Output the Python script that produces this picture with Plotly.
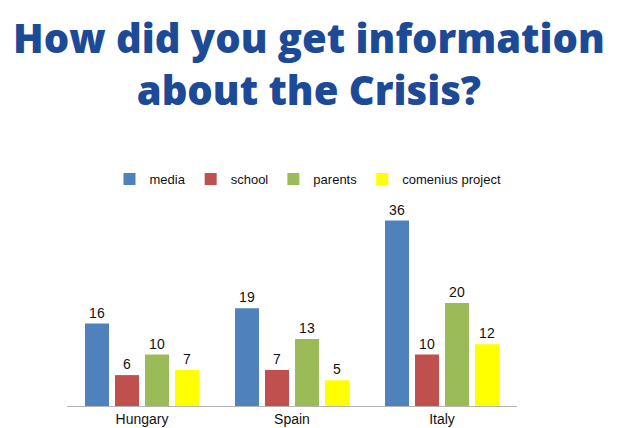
import plotly.graph_objects as go

countries = ["Hungary", "Spain", "Italy"]
series_names = ["media", "school", "parents", "comenius project"]
media = [16, 19, 36]
school = [6, 7, 10]
parents = [10, 13, 20]
comenius = [7, 5, 12]
colors = ["#4f81bd", "#c0504d", "#9bbb59", "#ffff00"]
title_text = "How did you get information<br>about the Crisis?"

fig = go.Figure()
for name, vals, col in zip(series_names, [media, school, parents, comenius], colors):
    fig.add_trace(go.Bar(
        x=countries, y=vals, name=name, marker=dict(color=col, line=dict(width=0)),
        text=[str(v) for v in vals], textposition="outside", cliponaxis=False,
        textfont=dict(family="Liberation Sans", size=14, color="#111111"),
    ))

fig.add_annotation(
    text=title_text, xref="paper", yref="paper", x=(309 - 67) / 450, y=(406 - 8) / 206,
    xanchor="center", yanchor="top", showarrow=False, align="center",
    font=dict(family="Open Sans", size=40, color="#1c4a96", weight=800),
)

fig.update_layout(
    width=619, height=428,
    margin=dict(l=67, r=102, t=200, b=22, autoexpand=False),
    paper_bgcolor="white", plot_bgcolor="white",
    barmode="group", bargap=0.2, bargroupgap=0.2,
    legend=dict(
        orientation="h", x=(308 - 67) / 450, xanchor="center", y=(406 - 179) / 206, yanchor="middle",
        font=dict(family="Liberation Sans", size=13, color="#111111"),
        itemwidth=30, tracegroupgap=0, bgcolor="rgba(0,0,0,0)",
    ),
    showlegend=True,
)
fig.update_xaxes(
    showline=True, linecolor="#b3b3b3", linewidth=1, ticks="", automargin=False,
    tickfont=dict(family="Liberation Sans", size=14, color="#111111"),
    showgrid=False,
)
fig.update_yaxes(range=[0, 40], visible=False, showgrid=False, zeroline=False)

fig.write_html(
    "out.html",
    config={"displayModeBar": False},
    post_script="document.body.style.margin='0';document.body.style.overflow='hidden';",
)
